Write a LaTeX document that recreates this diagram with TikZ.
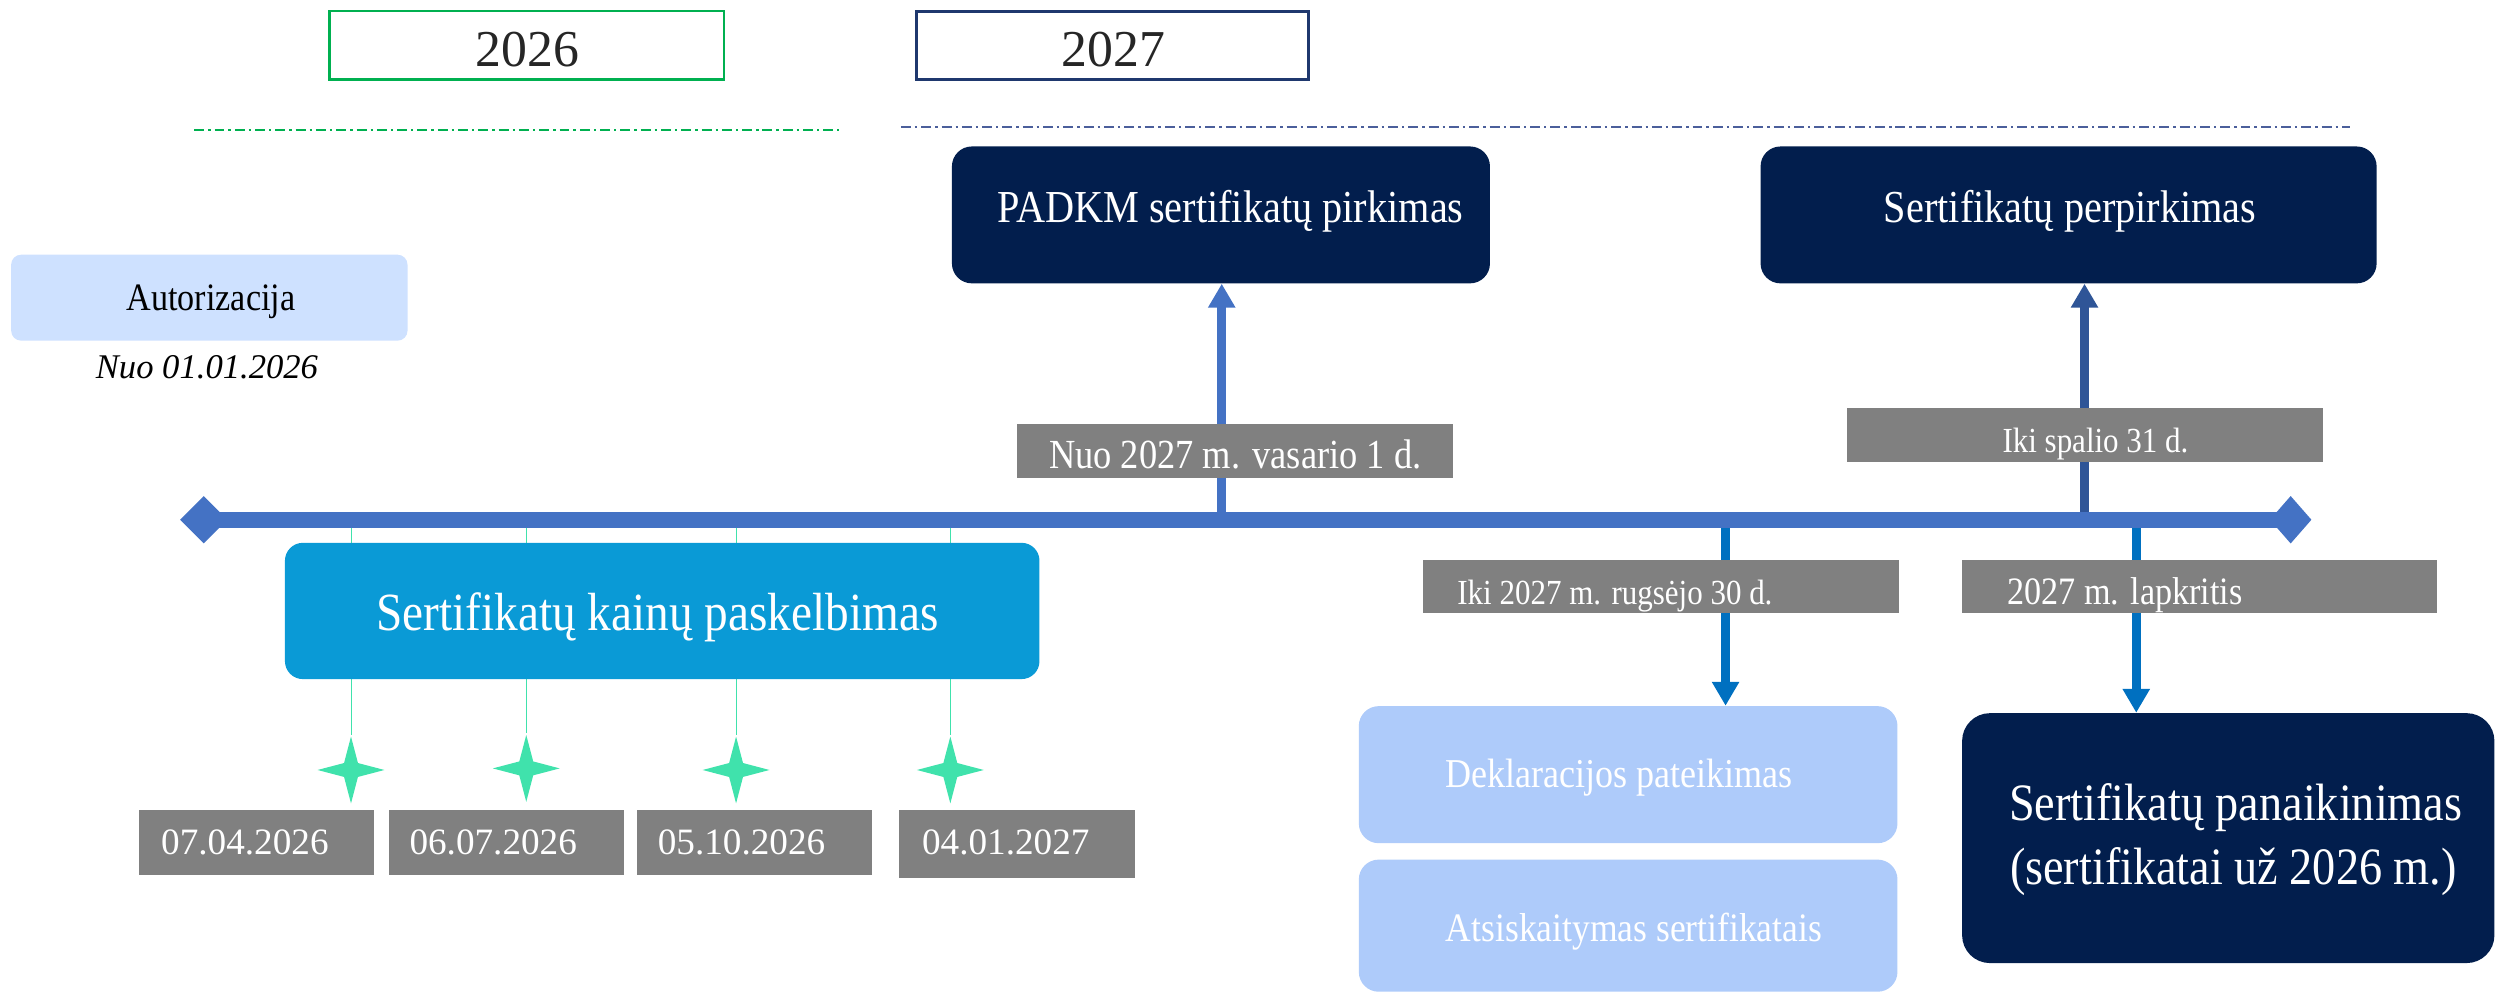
\documentclass[tikz,border=0pt]{standalone}
\usepackage{fontspec}
\setmainfont{Liberation Serif}
\newfontfamily\cf[FakeStretch=0.88]{Liberation Serif}
\usetikzlibrary{shapes.geometric,arrows.meta,fit,backgrounds}
\newcommand\setfs[1]{\fontsize{#1}{#1}\selectfont}
\definecolor{navy}{RGB}{2,30,77}
\definecolor{cerul}{RGB}{10,154,214}
\definecolor{lightA}{RGB}{206,225,255}
\definecolor{lightB}{RGB}{174,203,250}
\definecolor{graylab}{RGB}{128,128,128}
\definecolor{tl}{RGB}{68,114,196}
\definecolor{arrUp}{RGB}{47,85,151}
\definecolor{arrDown}{RGB}{0,112,192}
\definecolor{starc}{RGB}{64,226,172}
\definecolor{green26}{RGB}{0,176,80}
\definecolor{navy27}{RGB}{31,56,110}
\definecolor{dash27}{RGB}{75,95,155}
\definecolor{yeartext}{RGB}{38,38,38}
\begin{document}
\begin{tikzpicture}[x=0.8pt,y=-0.8pt,
  txt/.style={inner sep=0pt, anchor=base},
  ltxt/.style={inner sep=0pt, anchor=base west},
  yearbox/.style={draw, line width=1.2pt, inner sep=0pt, fill=white},
  navybox/.style={fill=navy, draw=none, rounded corners=10pt, inner sep=0pt},
  cerbox/.style={fill=cerul, draw=none, rounded corners=9pt, inner sep=0pt},
  lightbox/.style={fill=lightB, draw=none, rounded corners=10pt, inner sep=0pt},
  graylabel/.style={fill=graylab, draw=none, inner sep=0pt},
  diam/.style={diamond, fill=tl, draw=none, inner sep=0pt},
  star4/.style={star, star points=4, star point ratio=3.4, minimum size=33.6pt, inner sep=0pt, fill=starc, draw=none},
  dashline/.style={line width=1pt, dash pattern=on 5pt off 2pt on 1.2pt off 2pt},
  uparrow/.style={line width=4.4pt, -{Triangle[length=12pt,width=13pt]}},
  thinline/.style={line width=0.5pt, draw=starc}
]
\useasboundingbox (0,0) rectangle (1568,624);

% year headers
\node[yearbox, draw=green26, fit={(207,7) (455,50)}] (y26) {};
\node[yearbox, draw=navy27, line width=1.5pt, fit={(576,7) (822,50)}] (y27) {};
\node[txt, text=yeartext, font=\setfs{26}] (y26t) at (331.5,42) {2026};
\node[txt, text=yeartext, font=\setfs{26}] (y27t) at (699.5,42) {2027};
\draw[dashline, draw=green26] (122,81.5) -- (527,81.5);
\draw[dashline, draw=dash27] (566,80) -- (1476,80);

% boxes
\node[navybox, fit={(598,92) (936,178)}] (padkm) {};
\node[navybox, fit={(1106,92) (1493,178)}] (perp) {};
\node[lightbox, fill=lightA, rounded corners=5pt, fit={(7,160) (256,214)}] (auth) {};
\node[cerbox, fit={(179,341) (653,426.6)}] (kainu) {};
\node[graylabel, fit={(639,266.4) (913,300.3)}] (g1) {};
\node[graylabel, fit={(1160,256.3) (1459,290.2)}] (g2) {};
\node[graylabel, fit={(894,351.8) (1193,385.1)}] (g3) {};
\node[graylabel, fit={(1232.6,351.8) (1531,385.1)}] (g4) {};
\node[graylabel, fit={(87.5,509) (235,549.7)}] (d1) {};
\node[graylabel, fit={(244.5,509) (392,549.7)}] (d2) {};
\node[graylabel, fit={(400,509) (548,549.7)}] (d3) {};
\node[graylabel, fit={(565,509) (713,551.6)}] (d4) {};
\node[lightbox, fit={(853.6,443.6) (1192,529.7)}] (dekl) {};
\node[lightbox, fit={(853.6,540) (1192,623)}] (atsi) {};
\node[navybox, rounded corners=14pt, fit={(1232.6,448) (1567,605)}] (panaik) {};

% timeline ends
\node[diam, minimum width=24pt, minimum height=24pt] (dl) at (128,326.5) {};
\node[diam, minimum width=21pt, minimum height=24pt] (dr) at (1439,326.5) {};
\coordinate (t1) at (767.5,326.5);
\coordinate (t2) at (1309.5,326.5);
\coordinate (t3) at (1084,326.5);
\coordinate (t4) at (1342,326.5);

% stars
\node[star4] (s1) at (220.5,483.7) {};
\node[star4] (s2) at (330.6,482.7) {};
\node[star4] (s3) at (462.4,483.7) {};
\node[star4] (s4) at (597,483.7) {};

% connectors
\begin{scope}[on background layer]
\draw[thinline] (s1 |- dl.center) -- (s1.north);
\draw[thinline] (s2 |- dl.center) -- (s2.north);
\draw[thinline] (s3 |- dl.center) -- (s3.north);
\draw[thinline] (s4 |- dl.center) -- (s4.north);
\draw[uparrow, draw=tl, fill=tl] (t1) -- (t1 |- padkm.south);
\draw[uparrow, draw=arrUp, fill=arrUp] (t2) -- (t2 |- perp.south);
\draw[uparrow, draw=arrDown, fill=arrDown] (t3) -- (t3 |- dekl.north);
\draw[uparrow, draw=arrDown, fill=arrDown] (t4) -- (t4 |- panaik.north);
\draw[line width=8pt, draw=tl] (dl.center) -- (dr.center);
\end{scope}

% texts
\node[txt, text=white, font=\cf\setfs{23}] (padkmt) at (773,140) {PADKM sertifikatų pirkimas};
\node[txt, text=white, font=\cf\setfs{23}] (perpt) at (1300.5,139.5) {Sertifikatų perpirkimas};
\node[txt, text=black, font=\cf\setfs{19.5}] (autht) at (132.5,194.8) {Autorizacija};
\node[txt, text=black, font=\itshape\setfs{17.4}] (authd) at (130,238) {Nuo 01.01.2026};
\node[txt, text=white, font=\cf\setfs{27}] (kainut) at (413,395.8) {Sertifikatų kainų paskelbimas};
\node[txt, text=white, font=\cf\setfs{20.8}] (g1t) at (776,294) {Nuo 2027 m. vasario 1 d.};
\node[txt, text=white, font=\cf\setfs{17.7}] (g2t) at (1316.4,284) {Iki spalio 31 d.};
\node[ltxt, text=white, font=\cf\setfs{17.7}] (g3t) at (915.3,379.6) {Iki 2027 m. rugsėjo 30 d.};
\node[ltxt, text=white, font=\cf\setfs{19.5}] (g4t) at (1260.8,380) {2027 m. lapkritis};
\node[ltxt, text=white, font=\setfs{18.7}] (d1t) at (101,537) {07.04.2026};
\node[ltxt, text=white, font=\setfs{18.7}] (d2t) at (257,537) {06.07.2026};
\node[ltxt, text=white, font=\setfs{18.7}] (d3t) at (413,537) {05.10.2026};
\node[ltxt, text=white, font=\setfs{18.7}] (d4t) at (579,537) {04.01.2027};
\node[txt, text=white, font=\cf\setfs{20.6}] (deklt) at (1017,495) {Deklaracijos pateikimas};
\node[txt, text=white, font=\cf\setfs{20.3}] (atsit) at (1026.5,591.7) {Atsiskaitymas sertifikatais};
\node[txt, text=white, font=\cf\setfs{26.4}] (panat1) at (1404.5,515.5) {Sertifikatų panaikinimas};
\node[txt, text=white, font=\cf\setfs{26.4}] (panat2) at (1403,555.8) {(sertifikatai už 2026 m.)};
\end{tikzpicture}
\end{document}
